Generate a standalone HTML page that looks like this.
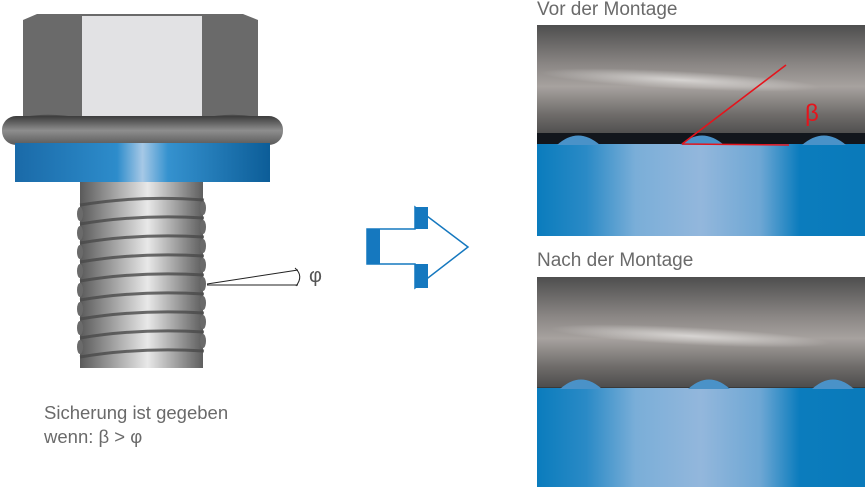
<!DOCTYPE html>
<html><head><meta charset="utf-8"><style>
html,body{margin:0;padding:0;background:#fff;width:865px;height:489px;overflow:hidden}
svg{display:block}
text{font-family:"Liberation Sans",sans-serif}
</style></head><body>
<svg width="865" height="489" viewBox="0 0 865 489" xmlns="http://www.w3.org/2000/svg">
<defs>
<linearGradient id="blueH" x1="0" x2="1" y1="0" y2="0">
<stop offset="0" stop-color="#0a7cbd"/><stop offset="0.15" stop-color="#2a8ac6"/><stop offset="0.3" stop-color="#7aaed8"/><stop offset="0.5" stop-color="#93b7dc"/><stop offset="0.68" stop-color="#6ea7d4"/><stop offset="0.8" stop-color="#0b7cbd"/><stop offset="1" stop-color="#0a7aba"/>
</linearGradient>
<linearGradient id="grayV" x1="0" x2="0" y1="0" y2="1">
<stop offset="0" stop-color="#4e4e4e"/><stop offset="0.35" stop-color="#8a8684"/><stop offset="0.55" stop-color="#a7a29f"/><stop offset="0.8" stop-color="#6f6c6a"/><stop offset="1" stop-color="#4a4a4a"/>
</linearGradient>
<linearGradient id="shankH" x1="0" x2="1">
<stop offset="0" stop-color="#5a5a5a"/><stop offset="0.45" stop-color="#cfcfcf"/><stop offset="0.55" stop-color="#e8e8e8"/><stop offset="1" stop-color="#5e5e5e"/>
</linearGradient>
<linearGradient id="washer" x1="0" x2="1">
<stop offset="0" stop-color="#1a6aa8"/><stop offset="0.4" stop-color="#2d8ccb"/><stop offset="0.5" stop-color="#a6c8e6"/><stop offset="0.6" stop-color="#3592cf"/><stop offset="1" stop-color="#0c5d98"/>
</linearGradient>
<linearGradient id="flange" x1="0" x2="0" y1="0" y2="1">
<stop offset="0" stop-color="#3c3c3c"/><stop offset="0.5" stop-color="#8e8e8e"/><stop offset="1" stop-color="#5a5a5a"/>
</linearGradient>
<radialGradient id="streak" cx="0.5" cy="0.5" r="0.5">
<stop offset="0" stop-color="#e4e2e0" stop-opacity="0.8"/><stop offset="1" stop-color="#e4e2e0" stop-opacity="0"/>
</radialGradient>
</defs>

<!-- Bolt -->
<rect x="80" y="182" width="123" height="186" fill="url(#shankH)"/>
<g fill="#6a6a6a">
<ellipse cx="80" cy="214" rx="3" ry="7"/><ellipse cx="80" cy="233" rx="3" ry="7"/><ellipse cx="80" cy="252" rx="3" ry="7"/><ellipse cx="80" cy="271" rx="3" ry="7"/><ellipse cx="80" cy="290" rx="3" ry="7"/><ellipse cx="80" cy="309" rx="3" ry="7"/><ellipse cx="80" cy="328" rx="3" ry="7"/><ellipse cx="80" cy="347" rx="3" ry="7"/>
<ellipse cx="203" cy="208" rx="3" ry="7"/><ellipse cx="203" cy="227" rx="3" ry="7"/><ellipse cx="203" cy="246" rx="3" ry="7"/><ellipse cx="203" cy="265" rx="3" ry="7"/><ellipse cx="203" cy="284" rx="3" ry="7"/><ellipse cx="203" cy="303" rx="3" ry="7"/><ellipse cx="203" cy="322" rx="3" ry="7"/><ellipse cx="203" cy="341" rx="3" ry="7"/>
</g>
<g stroke="#4a4a4a" stroke-width="3" fill="none" opacity="0.8">
<path d="M80 205 Q140 195 204 200"/><path d="M80 224 Q140 214 204 218"/><path d="M80 243 Q140 233 204 237"/><path d="M80 262 Q140 252 204 256"/><path d="M80 281 Q140 271 204 275"/><path d="M80 300 Q140 290 204 294"/><path d="M80 319 Q140 309 204 313"/><path d="M80 338 Q140 328 204 332"/><path d="M80 357 Q140 347 204 351"/>
</g>
<polygon points="37,14 243,14 258,20 258,118 23,118 23,20" fill="#6a6a6a"/>
<rect x="82" y="16" width="120" height="102" fill="#e2e2e4"/>
<path d="M23 117 Q50 112 82 118 L202 118 Q230 112 258 117 Z" fill="#4a4a4a"/>
<rect x="2" y="116" width="281" height="29" rx="14" fill="url(#flange)"/>
<rect x="15" y="143" width="255" height="39" fill="url(#washer)"/>
<path d="M207 284 L298 270 M207 285 L298 285" stroke="#222" stroke-width="1" fill="none"/>
<path d="M295 268 Q304 276 296 286" stroke="#222" fill="none"/>
<text x="309" y="282" font-size="20" fill="#555">φ</text>

<text x="44" y="419" font-size="18.5" fill="#6a6a6a">Sicherung ist gegeben</text>
<text x="44" y="443" font-size="18.5" fill="#6a6a6a">wenn: β &gt; φ</text>

<!-- Arrow -->
<polygon points="367,229 415,229 415,207 468,247 415,288 415,264 367,264" fill="#fff" stroke="#1578bf" stroke-width="1.5"/>
<rect x="367" y="229" width="13" height="35" fill="#1578bf"/>
<polygon points="415,207 428,207 428,229 415,229" fill="#1578bf"/>
<polygon points="415,264 428,264 428,288 415,288" fill="#1578bf"/>

<!-- Panel 1 -->
<text x="537" y="15" font-size="19" fill="#6a6a6a">Vor der Montage</text>
<rect x="537" y="25" width="328" height="112" fill="url(#grayV)"/>
<ellipse cx="680" cy="80" rx="140" ry="9" fill="url(#streak)" transform="rotate(3 680 80)"/>
<rect x="537" y="133" width="328" height="12" fill="#12161c"/>
<rect x="537" y="144" width="328" height="92" fill="url(#blueH)"/>
<path d="M557 145 Q578 126 600 145 Z M680 145 Q702 126 724 145 Z M802 145 Q824 126 846 145 Z" fill="#4a92c8"/>
<path d="M682 144 L786 65 M682 144 L789 145" stroke="#e5141c" stroke-width="1.6" fill="none"/>
<text x="805" y="121" font-size="24" fill="#e5141c">β</text>

<!-- Panel 2 -->
<text x="537" y="266" font-size="19" fill="#6a6a6a">Nach der Montage</text>
<rect x="537" y="277" width="328" height="112" fill="url(#grayV)"/>
<ellipse cx="690" cy="336" rx="140" ry="9" fill="url(#streak)" transform="rotate(3 690 336)"/>
<line x1="537" y1="388" x2="865" y2="388" stroke="#333" stroke-width="1.5"/>
<rect x="537" y="388" width="328" height="99" fill="url(#blueH)"/>
<path d="M560 389 Q581 370 602 389 Z M688 389 Q709 370 730 389 Z M812 389 Q833 370 854 389 Z" fill="#4a92c8"/>
</svg>
</body></html>
